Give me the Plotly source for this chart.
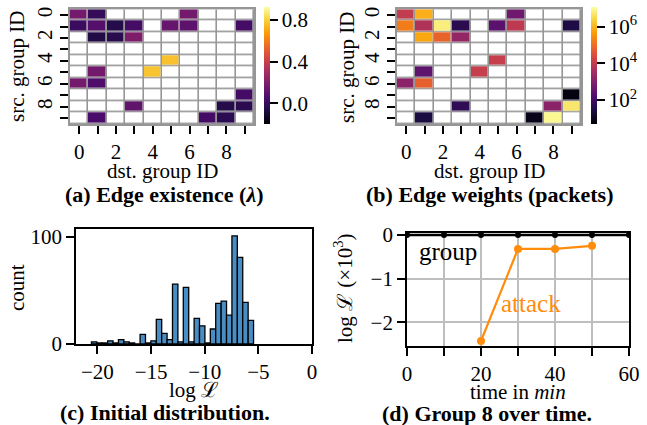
import numpy as np
import plotly.graph_objects as go

# ---------------- data ----------------
groups = list(range(10))
tick_even = ["0", "", "2", "", "4", "", "6", "", "8", ""]

N = None
# (a) edge existence lambda, rows = src group, cols = dst group
existence = [
    [0.16, -0.01, N, N, N, N, 0.16, N, N, N],
    [0.01, 0.08, -0.05, 0.035, N, 0.125, 0.10, N, N, 0.035],
    [N, -0.06, -0.04, 0.19, N, N, N, N, N, N],
    [N, N, N, N, N, N, N, N, N, N],
    [N, N, N, N, N, 0.76, N, N, N, N],
    [N, 0.16, N, N, 0.77, N, N, N, N, N],
    [0.16, 0.06, N, N, N, N, N, N, N, N],
    [N, N, N, N, N, N, N, N, N, 0.035],
    [N, N, N, 0.11, N, N, N, N, -0.05, -0.03],
    [N, 0.05, N, N, N, N, N, 0.035, -0.03, N],
]
# (b) edge weights in packets
weights = [
    [10000, 794000, N, N, N, N, 457, N, N, N],
    [158000, 5000, 6300000, 45, N, 224, 8700, N, N, 28],
    [N, 617000, 67600, 1740, N, N, N, N, N, N],
    [N, N, N, N, N, N, N, N, N, N],
    [N, N, N, N, N, 11700, N, N, N, N],
    [N, 257, N, N, 11700, N, N, N, N, N],
    [1290, 58900, N, N, N, N, N, N, N, N],
    [N, N, N, N, N, N, N, N, N, 7],
    [N, N, N, 50, N, N, N, N, 1290, 4800000],
    [N, 25, N, N, N, N, N, 9, 8500000, N],
]
# (c) histogram of initial log-likelihood
hist_start = -20.56
hist_width = 0.5037
hist_counts = [2, 1, 1, 3, 1, 4, 2, 1, 0, 9, 1, 3, 23, 10, 4, 56, 2, 53, 2,
               24, 17, 1, 14, 38, 40, 27, 101, 81, 39, 22]
# (d) group 8 over time
time_min = [0, 10, 20, 30, 40, 50, 60]
group_ll = [0, 0, 0, 0, 0, 0, 0]
attack_time = [20, 30, 40, 50]
attack_ll = [-2.43, -0.32, -0.32, -0.25]

# ---------------- figure ----------------
W, H = 647, 425
FONT = "Liberation Serif, DejaVu Serif, serif"
FS = 21
GRAYLINE = "rgb(150,150,150)"
ORANGE = "rgb(255,140,10)"

def px(x0, x1):
    return [x0 / W, x1 / W]

def py(y_top, y_bot):
    return [1 - y_bot / H, 1 - y_top / H]

fig = go.Figure()

weights_log = [[(np.log10(v) if v is not None else None) for v in row] for row in weights]
white = [[0] * 10 for _ in range(10)]

for xa, ya, z, zmin, zmax, cbx, tv, tt in [
    ("x", "y", existence, -0.2, 0.922, 264, [0, 0.4, 0.8], ["0.0", "0.4", "0.8"]),
    ("x2", "y2", weights_log, 0.69, 7.06, 591, [2, 4, 6],
     ["10<sup>2</sup>", "10<sup>4</sup>", "10<sup>6</sup>"]),
]:
    fig.add_trace(go.Heatmap(z=white, x=groups, y=groups, xaxis=xa, yaxis=ya,
                             colorscale=[[0, "white"], [1, "white"]], showscale=False,
                             xgap=1.6, ygap=1.6, hoverinfo="skip"))
    fig.add_trace(go.Heatmap(
        z=z, x=groups, y=groups, xaxis=xa, yaxis=ya, colorscale="Inferno",
        zmin=zmin, zmax=zmax, xgap=1.6, ygap=1.6,
        colorbar=dict(x=cbx / W, xanchor="left", xpad=0, ypad=0,
                      y=1 - 65.7 / H, yanchor="middle", len=116.7 / H,
                      thickness=6, outlinewidth=0, ticks="outside", ticklen=8,
                      tickwidth=2, tickcolor="black", tickvals=tv, ticktext=tt,
                      tickfont=dict(size=FS, color="black", family=FONT))))

# histogram
centers = [hist_start + hist_width * (i + 0.5) for i in range(len(hist_counts))]
fig.add_trace(go.Bar(x=centers, y=hist_counts, width=hist_width, xaxis="x3", yaxis="y3",
                     marker=dict(color="rgb(72,141,196)", line=dict(color="black", width=1.3)),
                     showlegend=False))

# line chart
fig.add_trace(go.Scatter(x=time_min, y=group_ll, xaxis="x4", yaxis="y4", mode="lines+markers",
                         line=dict(color="black", width=2.6),
                         marker=dict(color="black", size=6), showlegend=False))
fig.add_trace(go.Scatter(x=attack_time, y=attack_ll, xaxis="x4", yaxis="y4", mode="lines+markers",
                         line=dict(color=ORANGE, width=2.2),
                         marker=dict(color=ORANGE, size=8), showlegend=False))

tickstyle = dict(ticks="outside", ticklen=8, tickwidth=2, tickcolor="black",
                 tickfont=dict(size=FS, color="black", family=FONT), automargin=False,
                 zeroline=False)

hm_x = dict(range=[-0.5, 9.5], tickvals=groups, ticktext=tick_even, showgrid=False,
            showline=True, linecolor=GRAYLINE, linewidth=1.6, mirror=True, **tickstyle)
hm_y = dict(range=[9.5, -0.5], tickvals=groups, ticktext=tick_even, showgrid=False,
            tickangle=-90, showline=True, linecolor=GRAYLINE, linewidth=1.6, mirror=True,
            **tickstyle)

box = dict(showline=True, linecolor="black", linewidth=1.8, mirror=True)

fig.update_layout(
    width=W, height=H, margin=dict(l=0, r=0, t=0, b=0),
    paper_bgcolor="white", plot_bgcolor="white",
    font=dict(family=FONT, size=FS, color="black"),
    showlegend=False,
    xaxis=dict(domain=px(70, 254), anchor="y", **hm_x),
    yaxis=dict(domain=py(9.3, 124), anchor="x", **hm_y),
    xaxis2=dict(domain=px(397, 581), anchor="y2", **hm_x),
    yaxis2=dict(domain=py(9.3, 124), anchor="x2", **hm_y),
    xaxis3=dict(domain=px(76, 312), anchor="y3", range=[-22, 0],
                tickvals=[-20, -15, -10, -5, 0], showgrid=False, **box, **tickstyle),
    yaxis3=dict(domain=py(229, 344), anchor="x3", range=[0, 107.5], tickvals=[0, 100],
                showgrid=False, **box, **tickstyle),
    xaxis4=dict(domain=px(407, 629), anchor="y4", range=[0, 60], tickvals=time_min,
                ticktext=["0", "", "20", "", "40", "", "60"], showgrid=True,
                gridcolor="rgb(190,190,190)", gridwidth=1.6, **box, **tickstyle),
    yaxis4=dict(domain=py(233, 346), anchor="x4", range=[-2.545, 0.045], tickvals=[-2, -1, 0],
                showgrid=True, gridcolor="rgb(190,190,190)", gridwidth=1.6, **box, **tickstyle),
)
# heatmap cell borders: gray shows through the gaps between the bricks
for xa, ya in [("x", "y"), ("x2", "y2")]:
    fig.add_shape(type="rect", xref=f"{xa} domain", yref=f"{ya} domain", x0=0, x1=1, y0=0, y1=1,
                  fillcolor=GRAYLINE, line=dict(width=0), layer="below")

def ann(text, x, y, size=FS, angle=0, bold=False, color="black", xref="paper", yref="paper",
        xanchor="center"):
    fig.add_annotation(text=f"<b>{text}</b>" if bold else text, x=x, y=y, xref=xref, yref=yref,
                       showarrow=False, textangle=angle, xanchor=xanchor, yanchor="middle",
                       borderpad=0, font=dict(size=size, color=color, family=FONT))

ann("dst. group ID", 162 / W, 1 - 171 / H)
ann("src. group ID", 17 / W, 1 - 67 / H, angle=-90)
ann("dst. group ID", 489 / W, 1 - 171 / H)
ann("src. group ID", 347 / W, 1 - 67 / H, angle=-90)
ann("(a) Edge existence (<i>λ</i>)", 165 / W, 1 - 194 / H, size=22, bold=True)
ann("(b) Edge weights (packets)", 490 / W, 1 - 194 / H, size=22, bold=True)
ann("log ℒ", 194 / W, 1 - 390 / H)
ann("count", 17 / W, 1 - 288 / H, angle=-90)
ann("(c) Initial distribution.", 165 / W, 1 - 412 / H, size=22, bold=True)
ann("time in <i>min</i>", 518 / W, 1 - 392 / H)
ann("log ℒ (×10<sup>3</sup>)", 343 / W, 1 - 288 / H, angle=-90)
ann("(d) Group 8 over time.", 487 / W, 1 - 413 / H, size=22, bold=True)
ann("group", 3, -0.38, size=25, xref="x4", yref="y4", xanchor="left")
ann("attack", 25.1, -1.58, size=25, color=ORANGE, xref="x4", yref="y4", xanchor="left")

fig.write_html("out.html", config={"displayModeBar": False},
               post_script="document.body.style.margin='0px';document.body.style.overflow='hidden';")
